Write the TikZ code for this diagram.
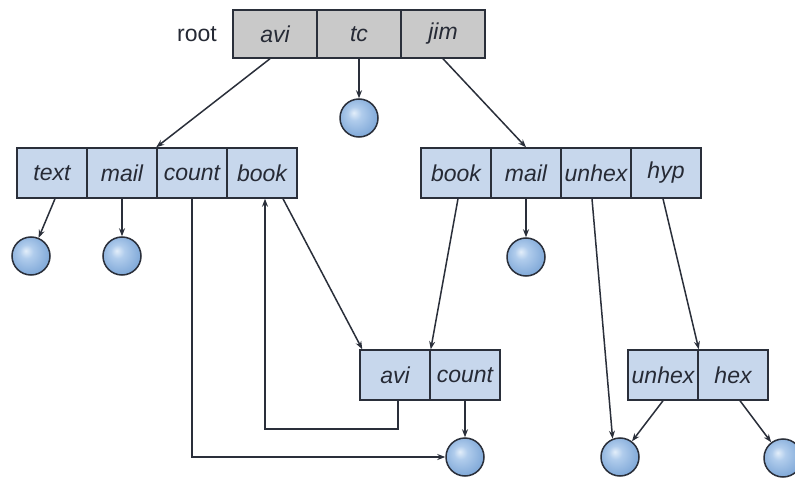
\documentclass[tikz,border=0pt]{standalone}
\usepackage{fontspec}
\setmainfont{Liberation Sans}
\usetikzlibrary{arrows.meta,calc}

\definecolor{cellblue}{HTML}{C7D7EC}
\definecolor{cellgray}{HTML}{C9C9C9}
\definecolor{edgecol}{HTML}{2A2F3A}
\definecolor{inkcol}{HTML}{262A35}
\definecolor{bubA}{HTML}{E3EEFA}
\definecolor{bubB}{HTML}{B0CCEC}
\definecolor{bubC}{HTML}{7BA5D6}

% light bubble with a highlight towards the upper left
\pgfdeclareradialshading{bubble}{\pgfpoint{-7bp}{7bp}}{%
  color(0bp)=(bubA); color(9bp)=(bubB); color(30bp)=(bubC); color(50bp)=(bubC)}

\tikzset{
  cell/.style={draw=edgecol, line width=1.5pt, fill=cellblue, minimum width=70pt,
    minimum height=50pt, inner sep=0pt, text=inkcol,
    font=\fontsize{23}{23}\selectfont\itshape},
  rootcell/.style={cell, fill=cellgray, minimum width=84pt, minimum height=48pt},
  leaf/.style={circle, draw=edgecol, line width=1.5pt, minimum size=38pt,
    inner sep=0pt, shading=bubble},
  link/.style={draw=edgecol, line width=1.5pt,
    -{Stealth[length=8pt,width=6pt]}}
}

\begin{document}
\begin{tikzpicture}[x=1pt, y=-1pt]
  \useasboundingbox (0,0) rectangle (795,481);
  \fill[white] (0,0) rectangle (795,481);

  % root directory
  \node[font=\fontsize{23}{23}\selectfont, text=inkcol] (rootlbl) at (197,34) {root};
  \node[rootcell] (ravi) at (275,34) {avi};
  \node[rootcell] (rtc)  at (359,34) {tc};
  \node[rootcell] (rjim) at (443,34) {jim};

  % directory reached through avi
  \node[cell] (ltext)  at (52,173)  {text};
  \node[cell] (lmail)  at (122,173) {mail};
  \node[cell] (lcount) at (192,173) {count};
  \node[cell] (lbook)  at (262,173) {book};

  % directory reached through jim
  \node[cell] (jbook)  at (456,173) {book};
  \node[cell] (jmail)  at (526,173) {mail};
  \node[cell] (junhex) at (596,173) {unhex};
  \node[cell] (jhyp)   at (666,173) {hyp};

  % shared directory
  \node[cell] (mavi)   at (395,375) {avi};
  \node[cell] (mcount) at (465,375) {count};

  % hyp directory
  \node[cell] (hunhex) at (663,375) {unhex};
  \node[cell] (hhex)   at (733,375) {hex};

  % files
  \node[leaf] (ftc)    at (359,118) {};
  \node[leaf] (ftext)  at (31,256)  {};
  \node[leaf] (fmail)  at (122,256) {};
  \node[leaf] (fjmail) at (526,257) {};
  \node[leaf] (fcount) at (465,457) {};
  \node[leaf] (funhex) at (620,457) {};
  \node[leaf] (fhex)   at (783,458) {};

  % links
  \draw[link] ([xshift=-5pt]ravi.south) -- (lcount.north west);
  \draw[link] (rtc.south) -- (ftc.north);
  \draw[link] (rjim.south) -- (jmail.north);

  \draw[link] ([xshift=3pt]ltext.south) -- (ftext);
  \draw[link] (lmail.south) -- (fmail.north);
  \draw[link] (lcount.south) |- (fcount.west);
  \draw[link] ([xshift=21pt]lbook.south) -- ([xshift=3pt]mavi.north west);
  \draw[link] ([xshift=3pt]mavi.south) -- ++(0,28) -| ([xshift=3pt]lbook.south);

  \draw[link] ([xshift=2pt]jbook.south) -- (mavi.north east);
  \draw[link] (jmail.south) -- (fjmail.north);
  \draw[link] ([xshift=-4pt]junhex.south) -- (funhex.112);
  \draw[link] ([xshift=-3pt]jhyp.south) -- (hunhex.north east);

  \draw[link] (mcount.south) -- (fcount.north);
  \draw[link] (hunhex.south) -- (funhex);
  \draw[link] ([xshift=7pt]hhex.south) -- (fhex);
\end{tikzpicture}
\end{document}
